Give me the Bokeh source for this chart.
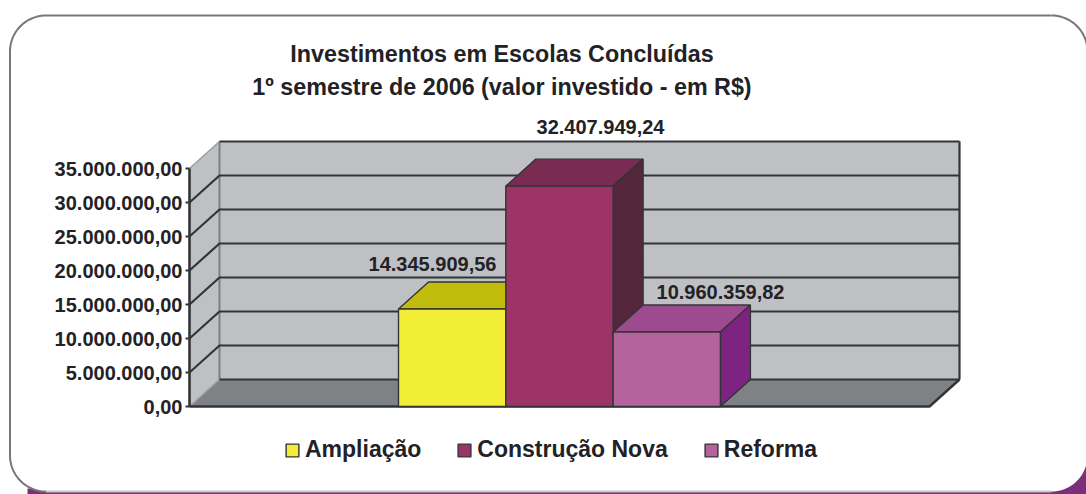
import numpy as np
from bokeh.plotting import figure
from bokeh.models import Range1d, FixedTicker, Legend, LegendItem
from bokeh.core.properties import value
from bokeh.embed import file_html
from bokeh.resources import INLINE

# ---- data
title_lines = ["Investimentos em Escolas Concluídas", "1º semestre de 2006 (valor investido - em R$)"]
categories = ["Ampliação", "Construção Nova", "Reforma"]
values = [14345909.56, 32407949.24, 10960359.82]
value_labels = ["14.345.909,56", "32.407.949,24", "10.960.359,82"]
tick_values = [0, 5000000, 10000000, 15000000, 20000000, 25000000, 30000000, 35000000]
tick_labels = ["0,00", "5.000.000,00", "10.000.000,00", "15.000.000,00", "20.000.000,00",
               "25.000.000,00", "30.000.000,00", "35.000.000,00"]
front_colors = ["#F2EE38", "#9C3468", "#B5639C"]
top_colors = ["#C2BC0C", "#7A2B52", "#9E4A8E"]
side_colors = ["#8F8B10", "#54273C", "#7E2381"]

# ---- layout (picture pixels)
W, H = 1086, 494
FONT = "Liberation Sans"
PER_PX = 35e6 / 238.0
Y0_PX = 406
def Y(px):
    return (Y0_PX - px) * PER_PX
DX, DY = 30, 27 * PER_PX
AX_X, FLOOR_R = 189, 929
BAR_L, BAR_W = 398, 107.3
LINE = "#333438"
WALL = "#BFC0C4"

p = figure(width=W, height=H, output_backend="svg", toolbar_location=None, min_border=0,
           x_range=Range1d(0, W), y_range=Range1d(Y(H), Y(0)),
           background_fill_color="white", border_fill_color="white", outline_line_color=None)
p.grid.visible = False
p.xaxis.visible = False

# ---- card
def rounded(x0, py0, x1, py1, r):
    t = np.linspace(0, np.pi / 2, 24)
    xs = np.concatenate([x1 - r + r * np.sin(t), x1 - r + r * np.cos(t), x0 + r - r * np.sin(t), x0 + r - r * np.cos(t)])
    ys = np.concatenate([py0 + r - r * np.cos(t), py1 - r + r * np.sin(t), py1 - r + r * np.cos(t), py0 + r - r * np.sin(t)])
    return xs, Y(ys)
p.quad(left=[27, 1040], right=[W, W], top=[Y(488), Y(462)], bottom=[Y(H), Y(H)], fill_color="#7B2F7A", line_color=None)
cx, cy = rounded(9.5, 15, 1087, 491, 36)
p.patch(cx, cy, fill_color="white", line_color=None)
p.line(cx[:24], cy[:24], line_color="#7A7678", line_width=2)
p.line(cx[48:], cy[48:], line_color="#7A7678", line_width=2)
p.line([cx[-1], cx[0]], [cy[-1], cy[0]], line_color="#7A7678", line_width=2)
p.line(cx[47:49], cy[47:49], line_color="#C8C6C8", line_width=2)

# ---- 3D walls
top = tick_values[-1]
bx0, bx1 = AX_X + DX, FLOOR_R + DX
p.patch([bx0, bx1, bx1, bx0], [DY, DY, top + DY, top + DY], fill_color=WALL, line_color=None)
p.patch([AX_X, bx0, bx0, AX_X], [0, DY, top + DY, top], fill_color=WALL, line_color=None)
p.patch([AX_X, bx0, bx1, FLOOR_R], [0, DY, DY, 0], fill_color="#7E8285", line_color=None)
p.line([bx0, bx0], [DY, top + DY], line_color="#7C7E82", line_width=2)
p.line([AX_X, bx0], [top, top + DY], line_color="#9A9CA0", line_width=1.5)
p.line([AX_X, bx0], [0, DY], line_color="#9A9CA0", line_width=1.5)
p.multi_line([[AX_X, bx0, bx1] for v in tick_values[1:-1]],
             [[v, v + DY, v + DY] for v in tick_values[1:-1]], line_color=LINE, line_width=2.2)
p.line([bx0, bx1], [top + DY, top + DY], line_color=LINE, line_width=2.2)
p.line([bx0, bx1], [DY, DY], line_color=LINE, line_width=2.2)
p.line([bx1, bx1], [DY, top + DY], line_color=LINE, line_width=2.2)
p.line([bx1, FLOOR_R, AX_X], [DY, 0, 0], line_color=LINE, line_width=2.4)

# ---- bars
legend_items = []
for i, (cat, v) in enumerate(zip(categories, values)):
    l, r = BAR_L + i * BAR_W, BAR_L + (i + 1) * BAR_W
    p.patch([l, l + DX, r + DX, r], [v, v + DY, v + DY, v], fill_color=top_colors[i], line_color=LINE, line_width=1.4)
    p.patch([r, r + DX, r + DX, r], [0, DY, v + DY, v], fill_color=side_colors[i], line_color=LINE, line_width=1.4)
    q = p.quad(left=[l], right=[r], bottom=[0], top=[v], fill_color=front_colors[i], line_color=LINE, line_width=1.4)
    legend_items.append(LegendItem(label=cat, renderers=[q]))

# ---- value labels
label_x = [432, 600, 720]
label_dy = [45 * PER_PX, 59 * PER_PX, 40 * PER_PX]
p.text(label_x, [v + d for v, d in zip(values, label_dy)], text=value_labels,
       text_font=value(FONT), text_font_style="bold", text_font_size="20px",
       text_color="#222226", text_align="center", text_baseline="middle")

# ---- title
p.text([501.5, 501.5], [Y(53), Y(86)], text=title_lines,
       text_font=value(FONT), text_font_style="bold", text_font_size="23.3px",
       text_color="#222226", text_align="center", text_baseline="middle")

# ---- value axis
ax = p.yaxis[0]
ax.fixed_location = AX_X
ax.bounds = (tick_values[0], tick_values[-1])
ax.ticker = FixedTicker(ticks=tick_values)
ax.major_label_overrides = {v: s for v, s in zip(tick_values, tick_labels)}
ax.major_label_text_font = FONT
ax.major_label_text_font_style = "bold"
ax.major_label_text_font_size = "20px"
ax.major_label_text_color = "#222226"
ax.major_label_standoff = 3
ax.major_tick_out = 4
ax.major_tick_in = 0
ax.major_tick_line_color = LINE
ax.major_tick_line_width = 2
ax.minor_tick_line_color = None
ax.axis_line_color = LINE
ax.axis_line_width = 2.6

# ---- legend
leg = Legend(items=legend_items, orientation="horizontal", location=(284, 31),
             background_fill_alpha=0, border_line_color=None, padding=0, margin=0,
             spacing=35, glyph_width=16, glyph_height=16, label_standoff=5,
             label_text_font=FONT, label_text_font_style="bold", label_text_font_size="23px",
             label_text_color="#222226")
p.add_layout(leg, "center")

open("out.html", "w").write(file_html(p, INLINE))
